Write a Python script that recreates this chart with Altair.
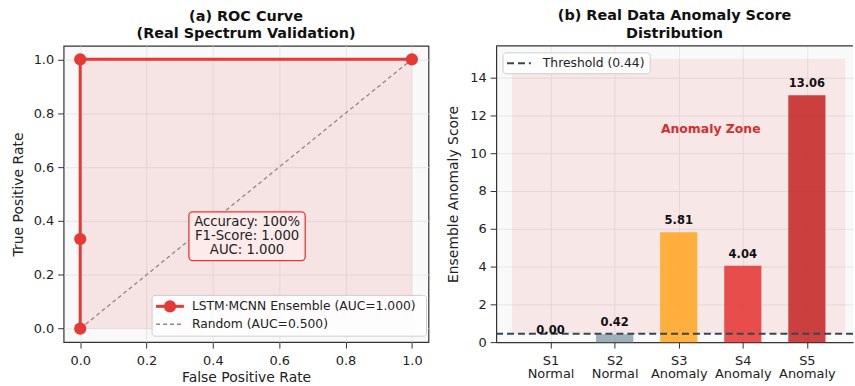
import altair as alt
import pandas as pd

# ---------------- data ----------------
fpr = [0.0, 0.0, 0.0, 1.0]
tpr = [0.0, 0.333, 1.0, 1.0]
diag_x = [0.0, 1.0]
diag_y = [0.0, 1.0]
roc_ticks = [0.0, 0.2, 0.4, 0.6, 0.8, 1.0]
metrics_text = ["Accuracy: 100%", "F1-Score: 1.000", "AUC: 1.000"]
roc_legend = ["LSTM·MCNN Ensemble (AUC=1.000)", "Random (AUC=0.500)"]

samples = ["S1", "S2", "S3", "S4", "S5"]
status = ["Normal", "Normal", "Anomaly", "Anomaly", "Anomaly"]
scores = [0.00, 0.42, 5.81, 4.04, 13.06]
bar_colors = ["#90a4ae", "#90a4ae", "#ffa726", "#e53935", "#c62828"]
score_ticks = [0, 2, 4, 6, 8, 10, 12, 14]
threshold = 0.44
zone_x = [-0.6, 4.6]
zone_y = [0.44, 15.0]

RED = "#e53935"
FONT = "DejaVu Sans"
TXT = "#222222"

# ---------------- left: ROC ----------------
LW, LH = 367, 298
xs = alt.Scale(domain=[-0.05, 1.05], nice=False, zero=False)
ys = alt.Scale(domain=[-0.05, 1.05], nice=False, zero=False)
x_axis = alt.Axis(values=roc_ticks, format=".1f", title="False Positive Rate", titlePadding=3, labelPadding=7)
y_axis = alt.Axis(values=roc_ticks, format=".1f", title="True Positive Rate", titlePadding=8)
X = alt.X("fpr:Q", scale=xs, axis=x_axis)
Y = alt.Y("tpr:Q", scale=ys, axis=y_axis)

roc_df = pd.DataFrame({"fpr": fpr, "tpr": tpr, "order": list(range(len(fpr)))})
roc_df["base"] = 0.0
diag_df = pd.DataFrame({"fpr": diag_x, "tpr": diag_y})
one = pd.DataFrame({"k": [0]})

area = alt.Chart(roc_df).mark_area(color=RED, opacity=0.11).encode(
    x=X, y=Y, y2="base:Q")
diag = alt.Chart(diag_df).mark_line(color="#8a8a8a", strokeWidth=1.3, strokeDash=[4, 3]).encode(x=X, y=Y)
roc_line = alt.Chart(roc_df).mark_line(
    color=RED, strokeWidth=3,
    point=alt.OverlayMarkDef(filled=True, size=150, color=RED, opacity=1)
).encode(x=X, y=Y, order="order:Q")

box = alt.Chart(one).mark_rect(fill="#fdeaea", stroke=RED, strokeWidth=1.3, cornerRadius=4).encode(
    x=alt.value(126), x2=alt.value(243), y=alt.value(167), y2=alt.value(216))
box_txt = alt.Chart(one).mark_text(text=metrics_text, font=FONT, fontSize=13.3, lineHeight=13.8,
                                   align="center", baseline="middle", color=TXT).encode(
    x=alt.value(184.5), y=alt.value(177.5))

leg_box = alt.Chart(one).mark_rect(fill="white", stroke="#cccccc", strokeWidth=1, cornerRadius=3, opacity=0.92).encode(
    x=alt.value(89), x2=alt.value(365), y=alt.value(251), y2=alt.value(292))
leg_l1 = alt.Chart(one).mark_rule(color=RED, strokeWidth=3).encode(
    x=alt.value(93), x2=alt.value(121), y=alt.value(262))
leg_p1 = alt.Chart(one).mark_point(filled=True, size=150, color=RED, opacity=1).encode(
    x=alt.value(107), y=alt.value(262))
leg_l2 = alt.Chart(one).mark_rule(color="#8a8a8a", strokeWidth=1.3, strokeDash=[4, 3]).encode(
    x=alt.value(93), x2=alt.value(121), y=alt.value(280))
leg_t1 = alt.Chart(one).mark_text(text=roc_legend[0], font=FONT, fontSize=12.4, align="left",
                                  baseline="middle", color=TXT).encode(x=alt.value(129), y=alt.value(262))
leg_t2 = alt.Chart(one).mark_text(text=roc_legend[1], font=FONT, fontSize=12.4, align="left",
                                  baseline="middle", color=TXT).encode(x=alt.value(129), y=alt.value(280))

left = alt.layer(area, diag, roc_line, box, box_txt, leg_box, leg_l1, leg_p1, leg_l2, leg_t1, leg_t2).properties(
    width=LW, height=LH,
    title=alt.TitleParams(text=["(a) ROC Curve", "(Real Spectrum Validation)"], lineHeight=18, offset=4),
    view=alt.ViewBackground(stroke="#333333", strokeWidth=1.2, fill="#f9f9f9"),
)

# ---------------- right: scores ----------------
RW, RH = 359, 298
bar_df = pd.DataFrame({
    "idx": list(range(len(samples))),
    "sample": samples, "status": status, "score": scores, "color": bar_colors,
})
bar_df["x0"] = bar_df["idx"] - 0.29
bar_df["x1"] = bar_df["idx"] + 0.29
bar_df["label"] = [f"{s:.2f}" for s in scores]

label_expr = "[" + ",".join(f"['{s}','{t}']" for s, t in zip(samples, status)) + "][datum.value]"
rxs = alt.Scale(domain=[-0.85, 4.72], nice=False, zero=False)
rys = alt.Scale(domain=[0, 15.68], nice=False, zero=False)
rx_axis = alt.Axis(values=list(range(len(samples))), labelExpr=label_expr,
                   title=None, domain=True, domainColor="#333333", domainWidth=1.2,
                   labelLineHeight=14, labelPadding=6)
ry_axis = alt.Axis(values=score_ticks, title="Ensemble Anomaly Score",
                   titlePadding=9, domain=True, domainColor="#333333", domainWidth=1.2)


def RX(field):
    return alt.X(field, scale=rxs, axis=rx_axis)


def RY(field):
    return alt.Y(field, scale=rys, axis=ry_axis)


zone_df = pd.DataFrame({"x0": [zone_x[0]], "x1": [zone_x[1]], "score": [zone_y[0]], "s2": [zone_y[1]]})
zone = alt.Chart(zone_df).mark_rect(color=RED, opacity=0.09).encode(
    x=RX("x0:Q"), x2="x1:Q", y=RY("score:Q"), y2="s2:Q")
bar_df["base"] = 0.0
bars = alt.Chart(bar_df).mark_bar(opacity=0.88).encode(
    x=RX("x0:Q"), x2="x1:Q", y=RY("score:Q"), y2="base:Q", color=alt.Color("color:N", scale=None))
thr_df = pd.DataFrame({"score": [threshold]})
thr = alt.Chart(thr_df).mark_rule(color="#37474f", strokeWidth=2, strokeDash=[7, 4]).encode(y=RY("score:Q"))
vals = alt.Chart(bar_df).mark_text(font=FONT, fontSize=11.6, fontWeight="bold", color="#111111",
                                   baseline="bottom", dy=-6).encode(
    x=RX("idx:Q"), y=RY("score:Q"), text="label:N")
zone_txt_df = pd.DataFrame({"idx": [2.5], "score": [11.3], "t": ["Anomaly Zone"]})
zone_txt = alt.Chart(zone_txt_df).mark_text(font=FONT, fontSize=12.5, fontWeight="bold", color="#d32f2f",
                                            baseline="middle").encode(
    x=RX("idx:Q"), y=RY("score:Q"), text="t:N")
top_border = alt.Chart(one).mark_rule(color="#333333", strokeWidth=1.2).encode(
    x=alt.value(0), x2=alt.value(RW), y=alt.value(0))
rleg_box = alt.Chart(one).mark_rect(fill="white", stroke="#cccccc", strokeWidth=1, cornerRadius=3, opacity=0.92).encode(
    x=alt.value(7), x2=alt.value(155), y=alt.value(7), y2=alt.value(28))
rleg_line = alt.Chart(one).mark_rule(color="#37474f", strokeWidth=2, strokeDash=[7, 4]).encode(
    x=alt.value(11), x2=alt.value(35), y=alt.value(17.5))
rleg_txt = alt.Chart(one).mark_text(text=f"Threshold ({threshold:.2f})", font=FONT, fontSize=12.4,
                                    align="left", baseline="middle", color=TXT).encode(
    x=alt.value(47), y=alt.value(17.5))

right = alt.layer(zone, bars, thr, vals, zone_txt, top_border, rleg_box, rleg_line, rleg_txt).properties(
    width=RW, height=RH,
    title=alt.TitleParams(text=["(b) Real Data Anomaly Score", "Distribution"], lineHeight=18, offset=4),
    view=alt.ViewBackground(stroke="transparent", fill="#f9f9f9"),
)

chart = alt.hconcat(left, right, spacing=16).properties(
    padding={"left": 10, "top": 6, "right": 0, "bottom": 0},
    background="white",
).configure_axis(
    labelFont=FONT, titleFont=FONT, labelFontSize=13, titleFontSize=14,
    labelColor=TXT, titleColor=TXT, titleFontWeight="normal",
    gridColor="#e2e2e2", gridWidth=0.8, tickColor="#333333", tickSize=6, tickWidth=1,
    domain=False, labelPadding=4,
).configure_title(
    font=FONT, fontSize=14.5, fontWeight="bold", anchor="middle", color="#111111",
)

chart.save("out.html", embed_options={"renderer": "svg", "actions": False})
